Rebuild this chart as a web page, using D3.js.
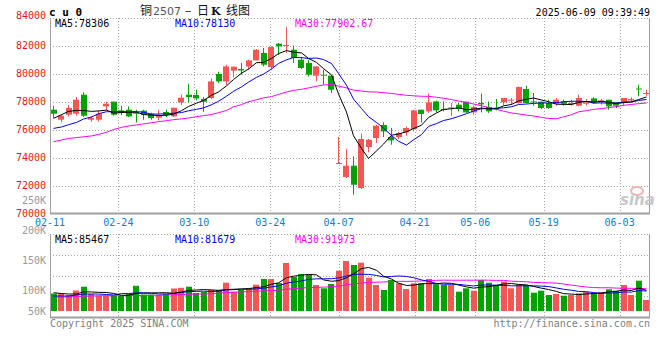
<!DOCTYPE html>
<html><head><meta charset="utf-8">
<script src="https://cdn.jsdelivr.net/npm/d3@7"></script>
<style>
body{margin:0;background:#fff;}
svg{display:block;}
text{font-family:"DejaVu Sans Mono",monospace;font-size:10px;}
</style></head><body>
<svg id="c" width="660" height="360"></svg>
<script>
// ---------- data ----------
const dates = ["02-11","02-12","02-13","02-14","02-17","02-18","02-19","02-20","02-21",
"02-24","02-25","02-26","02-27","02-28","03-03","03-04","03-05","03-06","03-07",
"03-10","03-11","03-12","03-13","03-14","03-17","03-18","03-19","03-20","03-21",
"03-24","03-25","03-26","03-27","03-28","03-31","04-01","04-02","04-03",
"04-07","04-08","04-09","04-10","04-11","04-14","04-15","04-16","04-17","04-18",
"04-21","04-22","04-23","04-24","04-25","04-28","04-29","04-30",
"05-06","05-07","05-08","05-09","05-12","05-13","05-14","05-15","05-16",
"05-19","05-20","05-21","05-22","05-23","05-26","05-27","05-28","05-29","05-30",
"06-03","06-04","06-05","06-06","06-09"];
const open  = [77414,76700,77057,77129,78486,76700,76700,77650,77986,77364,77414,77200,77343,77129,76843,77250,76936,77936,78486,78464,
78179,78250,79964,79436,80200,80321,80507,80936,81464,80464,82129,81986,81700,80986,80750,79843,79914,79843,73550,72607,
73414,71821,74750,75393,76321,75464,75464,75793,76036,77414,77293,78007,77464,77507,77771,77986,77221,77893,77607,77557,
77936,78057,77893,78893,78007,77986,77893,77843,78007,77793,77700,77843,78221,77986,78129,77936,77893,78079,78929,78557];
const high  = [77700,77079,77750,78321,78650,76936,77364,77986,77986,77700,77650,77414,77414,77200,77414,77414,77557,78507,79271,78843,
78321,79643,80129,80629,80486,80750,80986,81750,81821,81936,82179,83321,81986,81179,80986,80507,80271,79843,75464,74607,
74079,75700,75321,76343,76507,76107,75821,76221,77414,77414,78557,78057,78007,77893,77893,77986,77700,78557,78007,78179,
78250,78250,79079,79129,78607,77986,78129,78250,78129,78129,78486,78179,78300,78179,78129,77936,78250,78300,79200,78843];
const low   = [76821,76507,76936,76986,76893,76557,76557,77364,76986,77036,76893,76507,76700,76700,76636,76893,76893,77750,77936,78079,
77271,78179,79321,79179,79721,79914,80271,80936,80507,80271,81343,81464,80750,80321,79793,79436,79200,78607,73550,72536,
71343,71750,74371,75036,75464,74914,75321,75557,75864,76507,77179,77221,77293,76986,77293,77179,77057,77221,77179,77364,
77700,77771,77843,77843,77700,77464,77464,77700,77700,77700,77650,77700,77843,77771,77414,77536,77700,77950,78364,78414];
const close = [77129,76986,77536,78129,76986,76843,77129,77843,77057,77179,76936,77150,77036,76821,77036,77036,77557,78271,78321,78221,
77986,79436,79436,80507,80486,80221,80936,81700,80629,81893,81936,82036,81107,80393,79914,80507,79843,78843,73607,73414,
72057,75321,75271,76271,75864,75221,75750,76107,77364,77107,77936,77364,77414,77579,77464,77221,77607,77793,77293,77486,
78250,78129,79036,77893,77936,77536,77536,78129,77843,77893,78250,77936,77893,78079,77650,77700,78250,78179,78893,78607];
const volume = [72100,72100,65900,84500,100100,70000,63900,63900,63900,61800,70000,103800,68000,68000,65900,70000,92700,95600,100100,74200,
78300,86500,86500,116600,79500,86500,91900,108400,131800,131800,115400,197800,140100,152400,148300,107100,93500,111200,166000,206000,
189500,199000,137200,107100,86500,127700,114100,90600,114100,114100,131800,110000,107100,107100,79500,93500,83600,127700,116600,107100,
120700,93500,110000,107100,75400,83600,65900,70000,63000,65900,72900,79500,75400,77000,89400,83600,107100,65900,124800,45300];
// moving-average values before enough bars exist in the window
const ma5Head  = [76793,77057,77293,77364];
const ma10Head = [76079,76179,76343,76507,76750,76893,77129,77271,77271];
const ma30Head = [75130,75250,75360,75420,75480,75540,75650,75800,76000,76150,76250,76330,76400,76480,76560,76630,76700,76760,76820,76920,
76990,77070,77200,77360,77620,77780,77980,78120,78260];
const vma5Head  = [75400,72100,70000,70000];
const vma10Head = [61800,61800,61800,65900,70000,70000,70000,68000,65900];
const vma30Head = [56400,57000,58000,60000,61000,62000,62500,63000,63000,63000,63500,64000,64000,64500,65000,66000,67000,68000,69000,70000,
70000,71000,74000,76000,77000,78500,80000,81500,83000];
const priceGrid   = [72000,74000,76000,78000,80000,82000];
const priceLabels = [84000,82000,80000,78000,76000,74000,72000,70000];
const volLabels   = [250000,200000,150000,100000,50000];
const dateLabels  = ["02-11","02-24","03-10","03-24","04-07","04-21","05-06","05-19","06-03"];
const maText  = ["MA5:78306","MA10:78130","MA30:77902.67"];
const vmaText = ["MA5:85467","MA10:81679","MA30:91973"];

// ---------- helpers ----------
function movingAvg(arr, n, head){
  return arr.map((d,i)=> i < n-1 ? head[i] : d3.mean(arr.slice(i-n+1,i+1)));
}
const RED="#f45555", GREEN="#00a300", GRID="#a8a8a8";
const svg = d3.select("#c");
const L=50, R=650, PT=18, PB=213, VT=234, VB=317;

const x  = d3.scaleBand().domain(dates).range([L,R]);
const gx = d3.scalePoint().domain(dates).range([L,R]);
const y  = d3.scaleLinear().domain([70000,84000]).range([213.5,17.5]);
const yv = d3.scaleLinear().domain([0,300000]).range([311,311-300000/4120]);
const volLabelY = d3.scaleLinear().domain([65000,250000]).range([311,200]).clamp(true);
const volQuarter = d3.scaleLinear().domain([0,4]).range([VT,VB]);
const cx = d => Math.floor(x(d)+x.bandwidth()/2)+0.5;

// ---------- grid ----------
const g = svg.append("g").attr("stroke",GRID).attr("stroke-dasharray","1,2").attr("fill","none");
priceGrid.forEach(v=>g.append("line").attr("x1",L).attr("x2",R).attr("y1",Math.round(y(v))+0.5).attr("y2",Math.round(y(v))+0.5));
g.append("line").attr("x1",L).attr("x2",R).attr("y1",PT+0.5).attr("y2",PT+0.5);
[1,2,3].forEach(k=>g.append("line").attr("x1",L).attr("x2",R).attr("y1",Math.round(volQuarter(k))+0.5).attr("y2",Math.round(volQuarter(k))+0.5));
g.append("line").attr("x1",L).attr("x2",R).attr("y1",VT+0.5).attr("y2",VT+0.5);
dateLabels.slice(1).forEach(d=>{
  const px=Math.round(gx(d))+0.5;
  g.append("line").attr("x1",px).attr("x2",px).attr("y1",PT).attr("y2",PB);
  g.append("line").attr("x1",px).attr("x2",px).attr("y1",VT).attr("y2",VB);
});
// frame
const f = svg.append("g").attr("stroke","#a0a0a0").attr("fill","none");
f.append("line").attr("x1",L+0.5).attr("x2",L+0.5).attr("y1",PT).attr("y2",PB+1);
f.append("line").attr("x1",L+0.5).attr("x2",L+0.5).attr("y1",VT).attr("y2",VB+1);
f.append("line").attr("x1",R-0.5).attr("x2",R-0.5).attr("y1",PT).attr("y2",PB+1);
f.append("line").attr("x1",R-0.5).attr("x2",R-0.5).attr("y1",VT).attr("y2",VB+1);
f.append("line").attr("x1",L).attr("x2",R).attr("y1",PB+0.5).attr("y2",PB+0.5).attr("stroke-width",2);
f.append("line").attr("x1",L).attr("x2",R).attr("y1",VB+0.5).attr("y2",VB+0.5).attr("stroke-width",2);

// ---------- watermark ----------
const wm = svg.append("g");
wm.append("ellipse").attr("cx",637).attr("cy",191).attr("rx",6).attr("ry",4).attr("fill","none").attr("stroke","#f2b4b4").attr("stroke-width",2);
wm.append("text").attr("x",620).attr("y",205).attr("fill","#c8c8c8").style("font-family","DejaVu Sans").style("font-size","15px").style("font-weight","bold").style("font-style","italic").text("sina");

// ---------- candles ----------
const idx = d3.range(dates.length);
const cg = svg.append("g");
idx.forEach(i=>{
  const d=dates[i], up = close[i]>=open[i], col = up?RED:GREEN;
  cg.append("line").attr("x1",cx(d)).attr("x2",cx(d)).attr("y1",y(high[i])).attr("y2",y(low[i])).attr("stroke",col);
  const t=y(Math.max(open[i],close[i])), b=y(Math.min(open[i],close[i]));
  cg.append("rect").attr("x",Math.floor(x(d))+1).attr("width",6).attr("y",t).attr("height",Math.max(1,b-t)).attr("fill",col);
});
// price MAs
const ma5=movingAvg(close,5,ma5Head), ma10=movingAvg(close,10,ma10Head), ma30=movingAvg(close,30,ma30Head);
const pl = d3.line().x((v,i)=>cx(dates[i])).y(v=>y(v));
[[ma30,"#ff00ff"],[ma10,"#0000ff"],[ma5,"#000000"]].forEach(([a,c])=>
  svg.append("path").attr("d",pl(a)).attr("fill","none").attr("stroke",c).attr("stroke-width",1));

// ---------- volume ----------
const vg = svg.append("g");
idx.forEach(i=>{
  const d=dates[i], col = close[i]>=open[i]?RED:GREEN;
  vg.append("rect").attr("x",Math.floor(x(d))+1).attr("width",6).attr("y",yv(volume[i])).attr("height",yv(0)-yv(volume[i])).attr("fill",col);
});
const vma5=movingAvg(volume,5,vma5Head), vma10=movingAvg(volume,10,vma10Head), vma30=movingAvg(volume,30,vma30Head);
const vl = d3.line().x((v,i)=>cx(dates[i])).y(v=>yv(v));
[[vma30,"#ff00ff"],[vma10,"#0000ff"],[vma5,"#000000"]].forEach(([a,c])=>
  svg.append("path").attr("d",vl(a)).attr("fill","none").attr("stroke",c).attr("stroke-width",1));

// ---------- texts ----------
priceLabels.forEach(v=>{
  svg.append("text").attr("x",46).attr("y",y(v)+(v===84000?1.5:3.2)).attr("text-anchor","end").attr("fill","#e8141e").text(v);
});
volLabels.forEach(v=>{
  svg.append("text").attr("x",46).attr("y",volLabelY(v)+3.7).attr("text-anchor","end").attr("fill","#9a9a9a").text((v/1000)+"K");
});
dateLabels.forEach(d=>{
  svg.append("text").attr("x",gx(d)).attr("y",226).attr("text-anchor","middle").attr("fill","#0a82d2").text(d);
});
const maCols=["#000000","#0000ff","#ff00ff"], maX=[55,175,295];
maText.forEach((t,k)=>svg.append("text").attr("x",maX[k]).attr("y",27.3).attr("fill",maCols[k]).text(t));
vmaText.forEach((t,k)=>svg.append("text").attr("x",maX[k]).attr("y",242.7).attr("fill",maCols[k]).text(t));

svg.append("text").attr("x",49).attr("y",15.7).style("font-size","11px").style("font-weight","bold").attr("fill","#000").text("c u 0");
const cj = s=>s.style("font-family","'Noto Sans CJK SC',sans-serif").style("font-size","12px").attr("fill","#111");
cj(svg.append("text").attr("x",140).attr("y",14.5).text("铜"));
svg.append("text").attr("x",153).attr("y",14.5).attr("fill","#555").style("font-size","11px").style("font-family","DejaVu Sans").text("2507");
cj(svg.append("text").attr("x",185).attr("y",14.5).text("–"));
cj(svg.append("text").attr("x",197).attr("y",14.5).text("日"));
svg.append("text").attr("x",211).attr("y",14.5).style("font-size","11px").style("font-weight","bold").style("font-family","DejaVu Serif").attr("fill","#111").text("K");
cj(svg.append("text").attr("x",226).attr("y",14.5).text("线图"));
svg.append("text").attr("x",650).attr("y",15.7).attr("text-anchor","end").attr("fill","#000").text("2025-06-09 09:39:49");
svg.append("text").attr("x",50).attr("y",327).attr("fill","#808080").text("Copyright 2025 SINA.COM");
svg.append("text").attr("x",650).attr("y",327).attr("text-anchor","end").attr("fill","#808080").text("http://finance.sina.com.cn");
</script>
</body></html>
